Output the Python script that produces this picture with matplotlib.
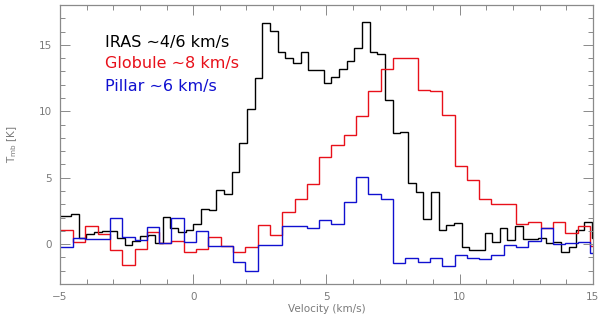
import numpy as np
import matplotlib
matplotlib.use("Agg")
import matplotlib.pyplot as plt
from matplotlib.ticker import MultipleLocator

# ---- data ----
# IRAS spectrum (channel width ~0.2875 km/s, first channel edge at -5.165 km/s)
iras_start, iras_dv = -5.165, 0.2875
iras_T = [2.1, 2.13, 2.3, 0.47, 0.73, 0.95, 1.0, 1.0, 0.5, -0.05,
          0.25, 0.6, 0.7, 0.05, 2.05, 1.25, 0.88, 1.1, 1.5, 2.65,
          2.55, 4.05, 3.8, 5.4, 7.65, 10.2, 12.48, 16.65, 16.05, 14.5,
          14.05, 13.65, 14.43, 13.08, 13.08, 12.1, 12.6, 13.15, 13.75, 14.8,
          16.75, 14.43, 14.3, 10.85, 8.35, 8.43, 4.6, 3.93, 1.93, 3.93,
          1.03, 1.45, 1.57, -0.22, -0.42, -0.42, 0.85, 0.2, 1.22, 0.3,
          1.35, 0.42, 0.4, 0.5, 0.1, 0.15, -0.62, -0.18, 1.05, 1.68, 0.45]

# Globule and Pillar spectra (channel width ~0.462 km/s, first edge at -5.435 km/s)
gp_start, gp_dv = -5.435, 0.462
globule_T = [1.1, 1.1, 0.17, 1.33, 0.75, -0.45, -1.58, -0.33, 0.9, 0.05,
             0.25, -0.58, -0.4, 0.55, -0.15, -0.58, -0.18, 1.43, 0.68, 2.43,
             3.43, 4.55, 6.55, 7.43, 8.25, 9.68, 11.55, 13.18, 14.0, 14.0,
             11.6, 11.5, 9.73, 5.88, 4.8, 3.43, 3.0, 3.0, 1.5, 1.65,
             1.25, 1.7, 0.87, 1.35, -0.15]
pillar_T = [-0.2, -0.2, 0.5, 0.42, 0.42, 2.0, 0.55, 0.3, 1.27, 0.05,
            2.0, 0.18, 1.02, -0.13, -0.12, -1.37, -2.05, -0.07, -0.05, 1.35,
            1.35, 1.2, 1.85, 1.55, 3.2, 5.05, 3.8, 3.4, -1.45, -1.07,
            -1.37, -1.05, -1.62, -0.85, -1.07, -1.12, -0.83, -0.05, -0.25, 0.25,
            1.21, 0.02, 0.1, 0.16, -0.7]

labels = ["IRAS \u223c4/6 km/s", "Globule \u223c8 km/s", "Pillar \u223c6 km/s"]
colors = ["#000000", "#e8101a", "#1010d0"]

xlim = (-5, 15)
ylim = (-3, 18)

# ---- figure ----
fig = plt.figure(figsize=(6.0, 3.14), dpi=100)
ax = fig.add_axes([0.100, 0.0955, 0.888, 0.8885])

def edges(start, dv, n):
    return start + dv * np.arange(n + 1)

ax.stairs(iras_T, edges(iras_start, iras_dv, len(iras_T)), baseline=None,
          color=colors[0], lw=1.0)
ax.stairs(globule_T, edges(gp_start, gp_dv, len(globule_T)), baseline=None,
          color=colors[1], lw=1.0)
ax.stairs(pillar_T, edges(gp_start, gp_dv, len(pillar_T)), baseline=None,
          color=colors[2], lw=1.0)

ax.set_xlim(*xlim)
ax.set_ylim(*ylim)

grey = "#8a8a8a"
for s in ax.spines.values():
    s.set_color(grey)
    s.set_linewidth(0.9)

ax.xaxis.set_major_locator(MultipleLocator(5))
ax.xaxis.set_minor_locator(MultipleLocator(1))
ax.yaxis.set_major_locator(MultipleLocator(5))
ax.yaxis.set_minor_locator(MultipleLocator(1))
ax.tick_params(which="both", direction="in", top=True, right=True,
               color=grey, labelcolor="#7a7a7a", labelsize=7.5, width=0.7)
ax.tick_params(which="major", length=7, pad=6)
ax.tick_params(which="minor", length=3.5)

ax.set_xlabel("Velocity (km/s)", fontsize=7.5, color="#7a7a7a", labelpad=1)
ax.set_ylabel("T$_{\\rm mb}$ [K]", fontsize=7.5, color="#7a7a7a", labelpad=14)

ys = [0.865, 0.79, 0.708]
for lab, c, yy in zip(labels, colors, ys):
    ax.text(0.085, yy, lab, transform=ax.transAxes, color=c, fontsize=11.5,
            va="center", ha="left")

fig.savefig("out.png", dpi=100)
